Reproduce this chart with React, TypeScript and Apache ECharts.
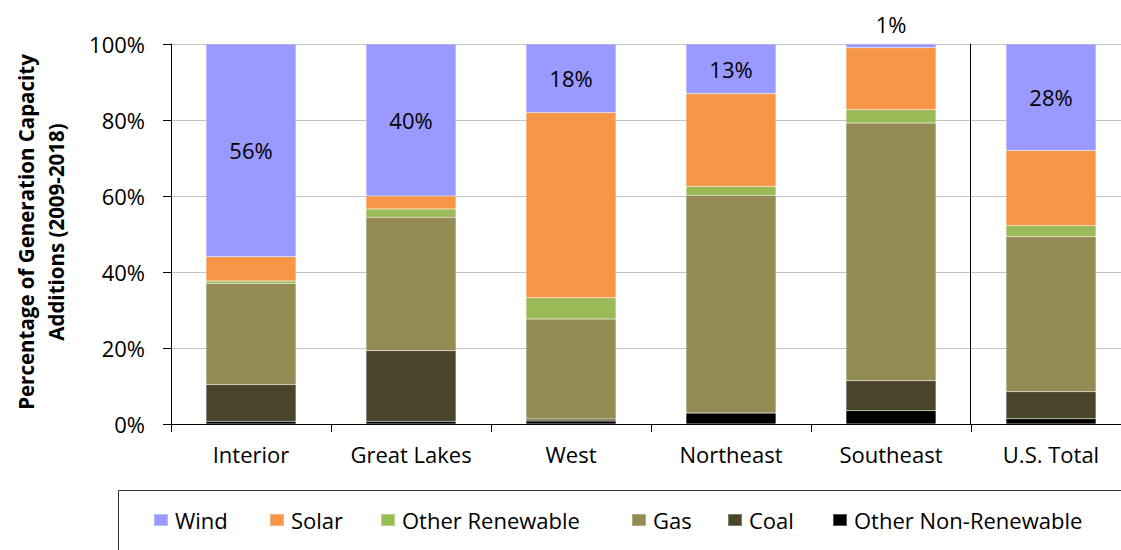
import React, { useEffect, useRef } from "react";
import * as echarts from "echarts";

// Regions and share of generation capacity additions (%) by resource type
const categories = ["Interior", "Great Lakes", "West", "Northeast", "Southeast", "U.S. Total"];
const wind = [56, 40, 18, 13, 1, 28];
const solar = [6.4, 3.4, 48.8, 24.5, 16.3, 19.8];
const otherRenewable = [0.6, 2.2, 5.6, 2.3, 3.5, 2.9];
const gas = [26.6, 35.1, 26.3, 57.3, 67.8, 40.8];
const coal = [9.7, 18.6, 0.5, 0, 7.9, 7.1];
const otherNonRenewable = [0.7, 0.7, 0.8, 2.9, 3.5, 1.4];
const yTicks = [0, 20, 40, 60, 80, 100];

const FONT = "'Open Sans', 'Noto Sans', sans-serif";

const legendNames = ["Wind", "Solar", "Other Renewable", "Gas", "Coal", "Other Non-Renewable"];
const legendLeft = [153, 269, 380, 631, 727, 832];

export default function App() {
  const ref = useRef<HTMLDivElement>(null);

  useEffect(() => {
    if (!ref.current) return;
    const chart = echarts.init(ref.current, undefined, { renderer: "svg" });

    const barBorder = { borderColor: "rgba(255,255,255,0.3)", borderWidth: 0.5 };

    const mkSeries = (name: string, data: any[], color: string, extra: any = {}) => ({
      name,
      type: "bar",
      stack: "total",
      barWidth: 90,
      itemStyle: { color, ...barBorder },
      data,
      ...extra,
    });

    const windData = wind.map((v) => ({
      value: v,
      label: v < 5 ? { position: "top", distance: 9 } : { position: "inside" },
    }));

    const option: any = {
      animation: false,
      textStyle: { fontFamily: FONT },
      // plot area runs slightly past the visible right edge
      grid: { left: 171, top: 44, bottom: 126, right: 0 },
      legend: legendNames.map((n, i) => ({
        data: [n],
        left: legendLeft[i],
        top: 509,
        itemWidth: 14,
        itemHeight: 12,
        icon: "rect",
        padding: 0,
        textStyle: { fontFamily: FONT, fontSize: 22, color: "#000", padding: [0, 0, 0, 2] },
        selectedMode: false,
      })),
      xAxis: {
        type: "category",
        data: categories,
        axisLine: { lineStyle: { color: "#000", width: 1 } },
        axisTick: { show: true, length: 8, lineStyle: { color: "#000" } },
        axisLabel: { fontFamily: FONT, fontSize: 22, color: "#000", margin: 19 },
      },
      yAxis: {
        type: "value",
        min: yTicks[0],
        max: yTicks[yTicks.length - 1],
        interval: 20,
        axisLine: { show: true, lineStyle: { color: "#000", width: 1 } },
        axisTick: { show: true, length: 8, lineStyle: { color: "#000" } },
        axisLabel: {
          fontFamily: FONT,
          fontSize: 22,
          color: "#000",
          margin: 26,
          formatter: "{value}%",
        },
        splitLine: { show: true, lineStyle: { color: "#c4c4c4", width: 1 } },
      },
      graphic: [
        {
          type: "text",
          x: 41,
          y: 232,
          rotation: Math.PI / 2,
          style: {
            text: "Percentage of Generation Capacity\nAdditions (2009-2018)",
            font: `bold 20.5px ${FONT}`,
            fill: "#000",
            align: "center",
            verticalAlign: "middle",
            lineHeight: 30,
          },
        },
        {
          type: "line",
          shape: { x1: 970.5, y1: 44, x2: 970.5, y2: 424 },
          style: { stroke: "#000", lineWidth: 1 },
          z: 10,
        },
        {
          type: "rect",
          shape: { x: 118.5, y: 490.5, width: 1100, height: 100 },
          style: { fill: "none", stroke: "#333", lineWidth: 1 },
        },
      ],
      series: [
        mkSeries("Other Non-Renewable", otherNonRenewable, "#000000"),
        mkSeries("Coal", coal, "#4a452a"),
        mkSeries("Gas", gas, "#948a54"),
        mkSeries("Other Renewable", otherRenewable, "#9bbb59"),
        mkSeries("Solar", solar, "#f79646"),
        mkSeries("Wind", windData, "#9999ff", {
          label: {
            show: true,
            fontFamily: FONT,
            fontSize: 22,
            color: "#000",
            formatter: (p: any) => `${p.value}%`,
          },
        }),
      ],
    };

    chart.setOption(option);
    return () => chart.dispose();
  }, []);

  return (
    <div
      style={{
        position: "absolute",
        left: 0,
        top: 0,
        width: 1121,
        height: 550,
        overflow: "hidden",
      }}
    >
      <div ref={ref} style={{ width: 1131, height: 550 }} />
    </div>
  );
}
